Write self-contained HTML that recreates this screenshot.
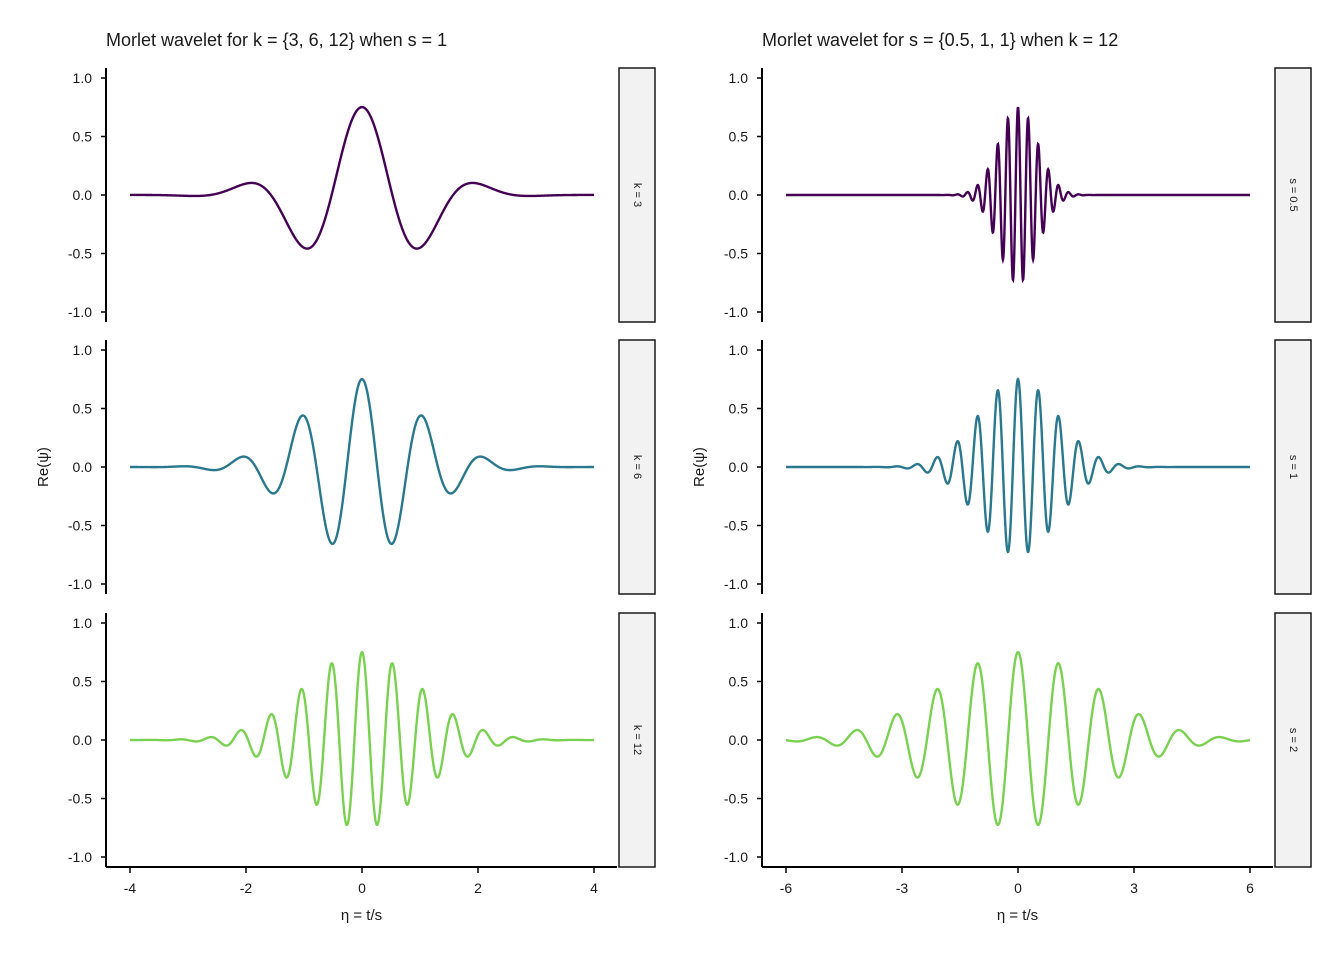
<!DOCTYPE html>
<html><head><meta charset="utf-8">
<style>
body{margin:0;background:#fff;}
svg text{font-family:"Liberation Sans",sans-serif;fill:#1a1a1a;}
</style></head>
<body>
<svg id="chart" width="1344" height="960" xmlns="http://www.w3.org/2000/svg"></svg>
<script>
// data
const leftK = [3, 6, 12];
const leftS = [1, 1, 1];
const rightK = [12, 12, 12];
const rightS = [0.5, 1, 2];
const leftStrips = ["k = 3", "k = 6", "k = 12"];
const rightStrips = ["s = 0.5", "s = 1", "s = 2"];
const colors = ["#440154", "#2A788E", "#7AD151"];
const yTicks = [1.0, 0.5, 0.0, -0.5, -1.0];
const yTickLabels = ["1.0", "0.5", "0.0", "-0.5", "-1.0"];
const leftXTicks = [-4, -2, 0, 2, 4];
const rightXTicks = [-6, -3, 0, 3, 6];
const leftXRange = [-4, 4];
const rightXRange = [-6, 6];

const NS = "http://www.w3.org/2000/svg";
const svg = document.getElementById("chart");
function mk(tag, attrs, parent) {
  const e = document.createElementNS(NS, tag);
  for (const k in attrs) e.setAttribute(k, attrs[k]);
  (parent || svg).appendChild(e);
  return e;
}
const rowTops = [68, 340, 613];
const rowH = 254;
function morlet(eta, k) { return Math.pow(Math.PI, -0.25) * Math.exp(-eta * eta / 2) * Math.cos(k * eta); }

function panel(side) {
  const isL = side === "left";
  const axX = isL ? 106 : 762;
  const plotR = isL ? 617 : 1273;
  const xr = isL ? leftXRange : rightXRange;
  const px0 = isL ? 130 : 786, px1 = isL ? 594 : 1250;
  const sx = v => px0 + (v - xr[0]) / (xr[1] - xr[0]) * (px1 - px0);
  const ks = isL ? leftK : rightK, ss = isL ? leftS : rightS;
  const strips = isL ? leftStrips : rightStrips;
  const g = mk("g", {});
  
  
  const t = mk("text", {x: axX, y: 46, "font-size": 18}, g);
  t.textContent = isL ? "Morlet wavelet for k = {3, 6, 12} when s = 1" : "Morlet wavelet for s = {0.5, 1, 1} when k = 12";
  
  
  for (let r = 0; r < 3; r++) {
    const top = rowTops[r];
    const sy = v => top + 127 - v * 117;
    const pg = mk("g", {}, g);
    
    
    const ax = mk("line", {x1: axX, x2: axX, y1: top, y2: top + rowH, stroke: "#000", "stroke-width": 2}, pg);
    
    
    yTicks.forEach((v, i) => {
      mk("line", {x1: axX - 5, x2: axX, y1: sy(v), y2: sy(v), stroke: "#000", "stroke-width": 1.5}, pg);
      const tl = mk("text", {x: axX - 14, y: sy(v) + 5, "font-size": 14, "text-anchor": "end"}, pg);
      tl.textContent = yTickLabels[i];
      
      
    });
    let d = "";
    const N = 1600;
    for (let i = 0; i <= N; i++) {
      const x = xr[0] + (xr[1] - xr[0]) * i / N;
      const y = morlet(x / ss[r], ks[r]);
      d += (i ? "L" : "M") + sx(x).toFixed(2) + "," + sy(y).toFixed(2);
    }
    const p = mk("path", {d: d, fill: "none", stroke: colors[r], "stroke-width": 2.4}, pg);
    
    
    const sr = mk("rect", {x: plotR + 2, y: top, width: 36, height: rowH, fill: "#f2f2f2", stroke: "#1a1a1a", "stroke-width": 1.5}, pg);
    
    
    const cx = plotR + 20, cy = top + rowH / 2;
    const st = mk("text", {x: cx, y: cy, "font-size": 11, "text-anchor": "middle", "dominant-baseline": "middle", transform: `rotate(90 ${cx} ${cy})`}, pg);
    st.textContent = strips[r];
    
    
  }
  const xa = mk("line", {x1: axX, x2: plotR, y1: 867, y2: 867, stroke: "#000", "stroke-width": 2}, g);
  
  
  (isL ? leftXTicks : rightXTicks).forEach(v => {
    mk("line", {x1: sx(v), x2: sx(v), y1: 867, y2: 873, stroke: "#000", "stroke-width": 1.5}, g);
    const tl = mk("text", {x: sx(v), y: 893, "font-size": 14, "text-anchor": "middle"}, g);
    tl.textContent = String(v);
    
    
  });
  const xt = mk("text", {x: (axX + plotR) / 2, y: 920, "font-size": 15, "text-anchor": "middle"}, g);
  xt.textContent = "η = t/s";
  
  
  const yx = axX - 58, yy = 467;
  const yt = mk("text", {x: yx, y: yy, "font-size": 15, "text-anchor": "middle", transform: `rotate(-90 ${yx} ${yy})`}, g);
  yt.textContent = "Re(ψ)";
  
  
}
panel("left");
panel("right");
</script>
</body></html>
